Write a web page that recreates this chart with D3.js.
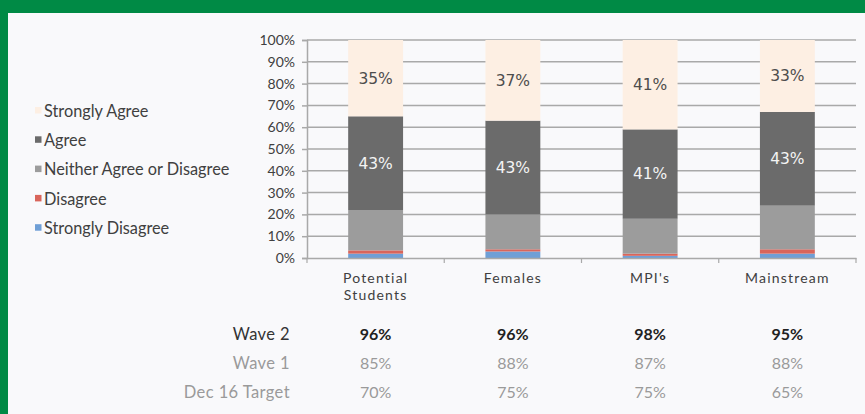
<!DOCTYPE html>
<html>
<head>
<meta charset="utf-8">
<script src="https://cdn.jsdelivr.net/npm/d3@7"></script>
<style>
  html, body { margin: 0; padding: 0; background: #008a45; }
  svg { display: block; }
</style>
</head>
<body>
<svg id="chart" width="865" height="414"></svg>
<script>
const categories = ["Potential Students", "Females", "MPI's", "Mainstream"];
const seriesNames = ["Strongly Disagree", "Disagree", "Neither Agree or Disagree", "Agree", "Strongly Agree"];
const stronglyDisagree = [2, 3, 1, 2];
const disagree = [1.5, 1, 1, 2];
const neither = [18.5, 16, 16, 20];
const agree = [43, 43, 41, 43];
const stronglyAgree = [35, 37, 41, 33];
const yTicks = [0, 10, 20, 30, 40, 50, 60, 70, 80, 90, 100];
const rowLabels = ["Wave 2", "Wave 1", "Dec 16 Target"];
const wave2 = ["96%", "96%", "98%", "95%"];
const wave1 = ["85%", "88%", "87%", "88%"];
const dec16Target = ["70%", "75%", "75%", "65%"];

const colors = ["#6f9fd6", "#d9655b", "#9c9c9c", "#6b6b6b", "#fdefe3"];
const legendOrder = [4, 3, 2, 1, 0];

const svg = d3.select("#chart");
const W = 865, H = 414;
svg.append("rect").attr("x", 8).attr("y", 13).attr("width", W - 8).attr("height", H - 13).attr("fill", "#f9f9fb");

const font = "Lato, 'Open Sans', sans-serif";
const wideFont = "'DejaVu Sans', sans-serif";
const plotLeft = 307, plotRight = 856, plotTop = 40, plotBottom = 258;

const x = d3.scaleBand().domain(categories).range([plotLeft, plotRight]).padding(0);
const y = d3.scaleLinear().domain([0, 100]).range([plotBottom, plotTop]);

const table = categories.map((c, i) => ({
  cat: c,
  "Strongly Disagree": stronglyDisagree[i],
  "Disagree": disagree[i],
  "Neither Agree or Disagree": neither[i],
  "Agree": agree[i],
  "Strongly Agree": stronglyAgree[i]
}));
const stacked = d3.stack().keys(seriesNames)(table);

svg.append("g").selectAll("line").data(yTicks.filter(t => t > 0)).join("line")
  .attr("x1", plotLeft).attr("x2", plotRight)
  .attr("y1", d => y(d)).attr("y2", d => y(d))
  .attr("stroke", "#a9a9a9").attr("stroke-width", 1.5);

const yAxis = svg.append("g").attr("transform", `translate(${plotLeft},0)`)
  .call(d3.axisLeft(y).tickValues(yTicks).tickFormat(d => d + "%").tickSize(5).tickPadding(7));
yAxis.select(".domain").attr("stroke", "#a9a9a9").attr("stroke-width", 1.5);
yAxis.selectAll(".tick line").attr("stroke", "#a9a9a9").attr("stroke-width", 1.5);
yAxis.selectAll("text").attr("font-family", font).attr("font-size", 14).attr("fill", "#404040");

const barW = x.bandwidth() * 0.4;
const gBars = svg.append("g");
stacked.forEach((layer, k) => {
  gBars.selectAll(null).data(layer).join("rect")
    .attr("x", d => x(d.data.cat) + (x.bandwidth() - barW) / 2)
    .attr("width", barW)
    .attr("y", d => y(d[1]))
    .attr("height", d => y(d[0]) - y(d[1]))
    .attr("fill", colors[k]);
});

const xAxis = svg.append("g").attr("transform", `translate(0,${plotBottom})`)
  .call(d3.axisBottom(x).tickSize(0).tickFormat(""));
xAxis.select(".domain").attr("stroke", "#a9a9a9").attr("stroke-width", 1.5);
const boundaries = categories.map(c => x(c)).concat([plotRight]);
svg.append("g").selectAll("line").data(boundaries).join("line")
  .attr("x1", d => d).attr("x2", d => d).attr("y1", plotBottom).attr("y2", plotBottom + 5)
  .attr("stroke", "#a9a9a9").attr("stroke-width", 1.2);

categories.forEach(c => {
  const words = c === "Potential Students" ? ["Potential", "Students"] : [c];
  const t = svg.append("text").attr("text-anchor", "middle")
    .attr("font-family", font).attr("font-size", 14).attr("letter-spacing", 1.2)
    .attr("fill", "#404040");
  words.forEach((w, i) => t.append("tspan").attr("x", x(c) + x.bandwidth() / 2).attr("y", 283 + i * 17).text(w));
});

[3, 4].forEach(k => {
  svg.append("g").selectAll("text").data(stacked[k]).join("text")
    .attr("x", d => x(d.data.cat) + x.bandwidth() / 2)
    .attr("y", d => (y(d[0]) + y(d[1])) / 2)
    .attr("dy", "0.35em")
    .attr("text-anchor", "middle")
    .attr("font-family", wideFont).attr("font-size", 15.5)
    .attr("fill", k === 3 ? "#f4f4f4" : "#4d4d4d")
    .text(d => Math.round(d[1] - d[0]) + "%");
});

const lg = svg.append("g");
legendOrder.forEach((k, i) => {
  const ly = 111 + i * 29.3;
  lg.append("rect").attr("x", 35).attr("y", ly - 4).attr("width", 6.5).attr("height", 6.5).attr("fill", colors[k]);
  lg.append("text").attr("x", 44).attr("y", ly).attr("dy", "0.35em")
    .attr("font-family", font).attr("font-size", 16.3).attr("fill", "#404040")
    .text(seriesNames[k]);
});

const rows = [wave2, wave1, dec16Target];
rows.forEach((vals, r) => {
  const ry = 334 + r * 29.2;
  const col = r === 0 ? "#222" : "#9a9a9a";
  svg.append("text").attr("x", 290).attr("y", ry).attr("dy", "0.35em").attr("text-anchor", "end")
    .attr("font-family", font).attr("font-size", 16.5).attr("letter-spacing", 0.4)
    .attr("fill", r === 0 ? "#333" : "#9a9a9a")
    .text(rowLabels[r]);
  svg.append("g").selectAll("text").data(vals).join("text")
    .attr("x", (d, i) => x(categories[i]) + x.bandwidth() / 2)
    .attr("y", ry).attr("dy", "0.35em").attr("text-anchor", "middle")
    .attr("font-family", font).attr("font-size", 16)
    .attr("font-weight", r === 0 ? "bold" : "normal")
    .attr("fill", col)
    .text(d => d);
});
</script>
</body>
</html>
